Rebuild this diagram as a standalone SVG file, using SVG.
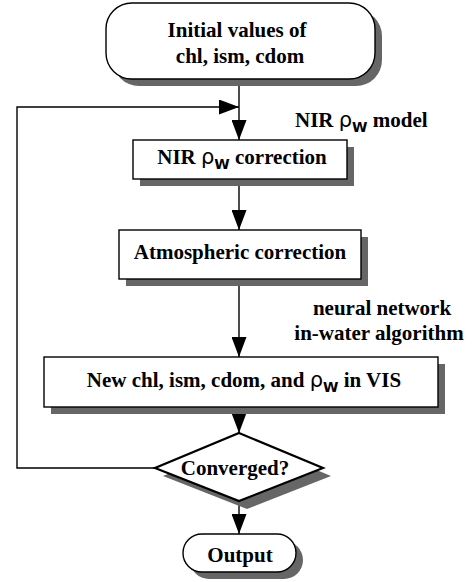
<svg xmlns="http://www.w3.org/2000/svg" width="475" height="582" viewBox="0 0 475 582">
<style>
.box{fill:#fff;stroke:#000;stroke-width:1.4}
.sh{fill:#666;stroke:none}
.dia{fill:#fff;stroke:#000;stroke-width:2.2}
.ln{fill:none;stroke:#000;stroke-width:1.4}
text{font-family:"Liberation Serif","Times New Roman",serif;font-weight:bold;font-size:21px;fill:#000}
.t{text-anchor:middle}
.rho{font-family:"DejaVu Sans","Liberation Sans",sans-serif;font-weight:normal;font-size:21px}
.sub{font-family:"DejaVu Sans","Liberation Sans",sans-serif;font-size:14px}
</style>
<defs>
<marker id="ah" markerUnits="userSpaceOnUse" markerWidth="21" markerHeight="15" refX="20" refY="7.5" orient="auto">
<path d="M0,0 L20,7.5 L0,15 z" fill="#000"/>
</marker>
</defs>
<g id="connectors">
<line class="ln" x1="239" y1="79" x2="239" y2="140" marker-end="url(#ah)"/>
<polyline class="ln" points="155,468 17,468 17,107 239,107" marker-end="url(#ah)"/>
<line class="ln" x1="239" y1="179" x2="239" y2="230" marker-end="url(#ah)"/>
<line class="ln" x1="239" y1="279" x2="239" y2="357" marker-end="url(#ah)"/>
<line class="ln" x1="239" y1="407" x2="239" y2="433" marker-end="url(#ah)"/>
<line class="ln" x1="239" y1="501" x2="239" y2="534" marker-end="url(#ah)"/>
</g>
<g id="start">
<rect class="sh" x="113" y="10" width="269" height="76" rx="26"/>
<rect class="box" x="106" y="3" width="269" height="76" rx="26"/>
<text class="t" x="237" y="37">Initial values of</text>
<text class="t" x="240" y="63">chl, ism, cdom</text>
</g>
<g id="nir">
<rect class="sh" x="140" y="147" width="214" height="39"/>
<rect class="box" x="133" y="140" width="214" height="39"/>
<text class="t" x="242" y="164">NIR <tspan class="rho">ρ</tspan><tspan class="sub" dy="5">W</tspan><tspan dy="-5"> correction</tspan></text>
</g>
<g id="nir-label">
<text x="295" y="127">NIR <tspan class="rho">ρ</tspan><tspan class="sub" dy="5">W</tspan><tspan dy="-5"> model</tspan></text>
</g>
<g id="atm">
<rect class="sh" x="126" y="237" width="242" height="49"/>
<rect class="box" x="119" y="230" width="242" height="49"/>
<text class="t" x="240" y="259">Atmospheric correction</text>
</g>
<g id="nn-label">
<text class="t" x="382" y="315">neural network</text>
<text class="t" x="379" y="340">in-water algorithm</text>
</g>
<g id="new">
<rect class="sh" x="51" y="364" width="394" height="50"/>
<rect class="box" x="44" y="357" width="394" height="50"/>
<text class="t" x="244" y="387">New chl, ism, cdom, and <tspan class="rho">ρ</tspan><tspan class="sub" dy="5">W</tspan><tspan dy="-5"> in VIS</tspan></text>
</g>
<g id="converged">
<polygon class="sh" points="247,441 331,476 247,509 163,476"/>
<polygon class="dia" points="239,433 323,468 239,501 155,468"/>
<text class="t" x="235" y="475">Converged?</text>
</g>
<g id="output">
<rect class="sh" x="190" y="541" width="113" height="38" rx="19"/>
<rect class="box" x="183" y="534" width="113" height="38" rx="19"/>
<text class="t" x="240" y="562">Output</text>
</g>
</svg>
